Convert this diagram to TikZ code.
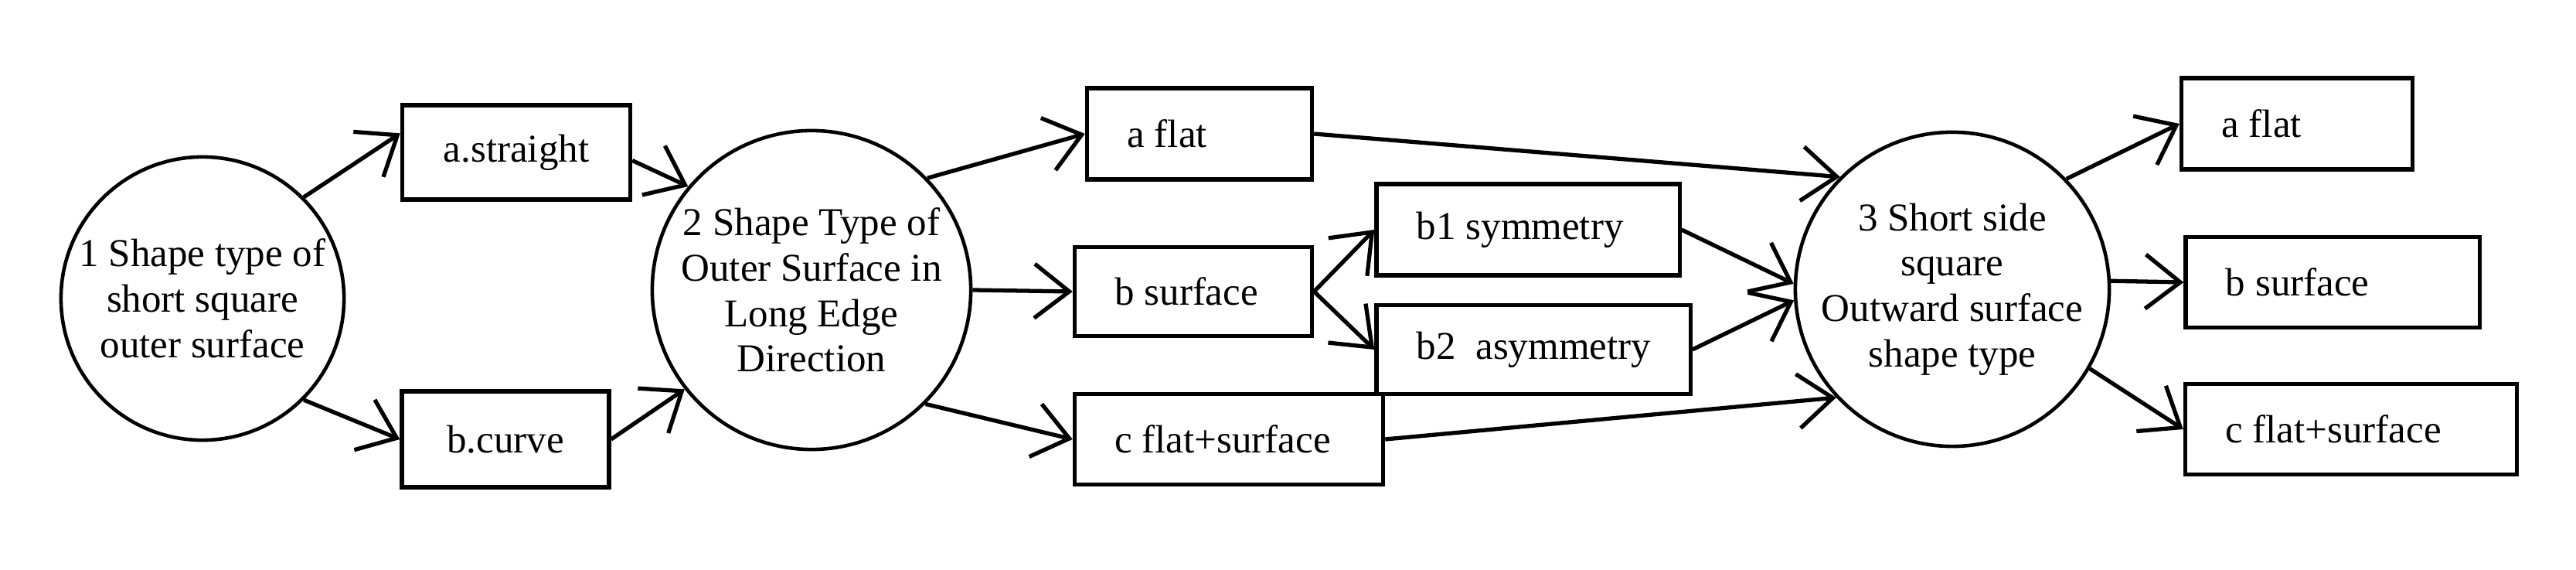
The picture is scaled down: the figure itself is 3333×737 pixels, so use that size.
\documentclass[tikz,border=0pt]{standalone}
\usepackage{fontspec}
\setmainfont{Liberation Serif}
\usetikzlibrary{arrows.meta}
\newcommand{\lbx}[2]{\makebox[#1][l]{#2}}
\begin{document}
\begin{tikzpicture}[x=0.01cm,y=-0.01cm,
  box/.style={draw,line width=1.5pt,inner ysep=0pt,inner xsep=0.52cm,font=\fontsize{14.5}{17}\selectfont},
  circ/.style={draw,circle,line width=1.3pt,inner sep=0pt,align=center,font=\fontsize{14.5}{16.7}\selectfont},
  arr/.style={line width=1.5pt,-{Straight Barb[length=4.5mm,width=7mm,line width=1.5pt]}}]
\useasboundingbox (0,0) rectangle (3333,737);
\node[circ,minimum size=3.66cm] (c1) at (262,386) {1 Shape type of\\short square\\outer surface};
\node[circ,minimum size=4.12cm] (c2) at (1050,375) {2 Shape Type of\\Outer Surface in\\Long Edge\\Direction};
\node[circ,minimum size=4.06cm] (c3) at (2526,374) {3 Short side\\square\\Outward surface\\shape type};
\node[box,inner xsep=0pt,minimum width=2.95cm,minimum height=1.22cm] (astr) at (668,197) {a.straight};
\node[box,inner xsep=0pt,minimum width=2.68cm,minimum height=1.24cm] (bcur) at (654,568) {b.curve};
\node[box,minimum height=1.18cm] (af) at (1552,173) {\lbx{1.87cm}{a flat}};
\node[box,minimum height=1.15cm] (bs) at (1544,377) {\lbx{2.03cm}{b surface}};
\node[box,minimum height=1.17cm] (cf) at (1590,568) {\lbx{2.95cm}{c flat+surface}};
\node[box,minimum height=1.18cm] (b1) at (1977,297) {\lbx{2.88cm}{b1 symmetry}};
\node[box,minimum height=1.15cm] (b2) at (1984,452) {\lbx{3.02cm}{b2\ \ asymmetry}};
\node[box,minimum height=1.18cm] (raf) at (2972,160) {\lbx{1.95cm}{a flat}};
\node[box,minimum height=1.17cm] (rbs) at (3018,365) {\lbx{2.76cm}{b surface}};
\node[box,minimum height=1.17cm] (rcf) at (3042,555) {\lbx{3.25cm}{c flat+surface}};
\draw[arr] (c1.45) -- ([yshift=7]astr.west);
\draw[arr] (c1.-45) -- (bcur.west);
\draw[arr] ([yshift=-3]astr.east) -- (c2.140);
\draw[arr] (bcur.east) -- (c2.218);
\draw[arr] (c2.44) -- (af.west);
\draw[arr] (c2.east) -- (bs.west);
\draw[arr] (c2.-45) -- (cf.west);
\draw[arr] (af.east) -- (c3.135);
\draw[arr] (bs.east) -- (b1.west);
\draw[arr] (bs.east) -- (b2.west);
\draw[arr] (b1.east) -- (c3.178);
\draw[arr] (b2.east) -- (c3.184);
\draw[arr] (cf.east) -- (c3.223);
\draw[arr] (c3.44) -- (raf.west);
\draw[arr] (c3.3) -- (rbs.west);
\draw[arr] (c3.-30) -- (rcf.west);
\end{tikzpicture}
\end{document}
